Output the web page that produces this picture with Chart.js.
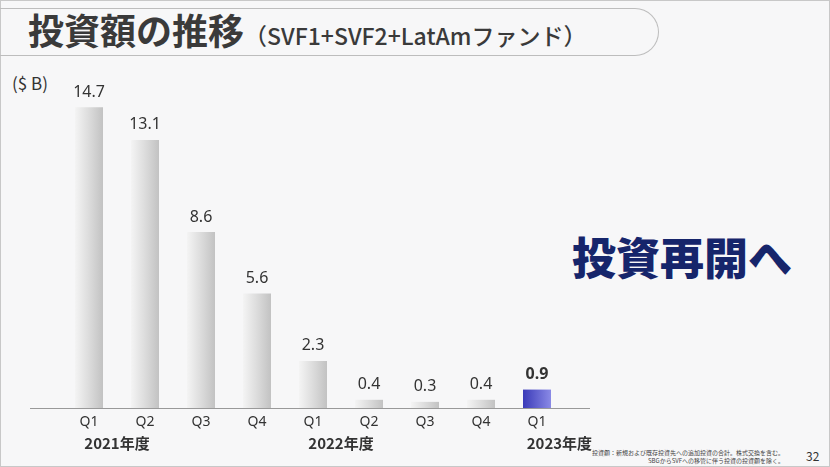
<!DOCTYPE html>
<html><head><meta charset="utf-8">
<script src="https://cdn.jsdelivr.net/npm/chart.js@4/dist/chart.umd.min.js"></script>
<style>
body{margin:0;width:830px;height:467px;overflow:hidden;background:#f7f7f8;font-family:"Noto Sans CJK JP","Noto Sans",sans-serif;position:relative}
#frame{position:absolute;left:0;top:0;width:828px;height:465px;border:1px solid #c8c8c8}
#tbox{position:absolute;left:-2px;top:8px;width:660px;height:46px;border:1.5px solid #bdbdbd;border-left:none;border-radius:0 26px 26px 0}
#title{position:absolute;left:28px;top:3px;font-size:36px;font-weight:700;color:#3a3a3a;white-space:nowrap}
#title span{font-size:23px;font-weight:500}
#unit{position:absolute;left:12px;top:70px;font-size:17px;color:#333}
#msg{position:absolute;left:572px;top:224px;font-size:44px;font-weight:900;color:#16256b}
#note{position:absolute;right:46px;top:449px;font-size:6px;color:#444;text-align:right;line-height:8px}
#pg{position:absolute;left:806px;top:447px;font-size:12px;color:#333}
#base{position:absolute;left:30px;top:408px;width:560px;height:1px;background:#999}
canvas{position:absolute;left:0;top:0}
</style></head><body>
<div id="frame"></div>
<div id="tbox"></div>
<div id="title">投資額の推移<span>（SVF1+SVF2+LatAmファンド）</span></div>
<div id="unit">($ B)</div>
<div id="msg">投資再開へ</div>
<div id="note">投資額：新規および既存投資先への追加投資の合計。株式交換を含む。<br>SBGからSVFへの移管に伴う投資の投資額を除く。</div>
<div id="pg">32</div>
<div id="base"></div>
<canvas id="c" width="830" height="467"></canvas>
<script>
const quarters=["Q1","Q2","Q3","Q4","Q1","Q2","Q3","Q4","Q1"];
const values=[14.7,13.1,8.6,5.6,2.3,0.4,0.3,0.4,0.9];
const years=[{label:"2021年度",from:0,to:1},{label:"2022年度",from:4,to:5},{label:"2023年度",from:8,to:8.8}];
const highlightIndex=8;

const labelPlugin={id:'lbl',afterDatasetsDraw(chart){
  const c=chart.ctx,x=chart.scales.x,y=chart.scales.y;
  c.save();c.textAlign='center';
  values.forEach((v,i)=>{
    const px=x.getPixelForValue(i);
    c.fillStyle='#333';
    c.font=(i===highlightIndex?'bold ':'')+'16px "Noto Sans","Noto Sans CJK JP"';
    c.textBaseline='bottom';
    c.fillText(v.toFixed(1),px,y.getPixelForValue(v)-7);
    c.font='14px "Noto Sans","Noto Sans CJK JP"';c.textBaseline='middle';
    c.fillText(quarters[i],px,422);
  });
  c.font='bold 15px "Noto Sans CJK JP"';
  years.forEach(g=>{
    const a=x.getPixelForValue(g.from),b=x.getPixelForValue(Math.floor(g.to))+(g.to%1)*56;
    c.fillText(g.label,(a+b)/2,443);
  });
  c.restore();
}};

new Chart(document.getElementById('c'),{
  type:'bar',
  data:{labels:quarters.map((q,i)=>i),datasets:[{data:values,
    backgroundColor:(ctx)=>{
      const ch=ctx.chart;if(!ch.chartArea)return '#ccc';
      const px=ch.scales.x.getPixelForValue(ctx.dataIndex);
      const g=ch.ctx.createLinearGradient(px-14,0,px+14,0);
      if(ctx.dataIndex===highlightIndex){g.addColorStop(0,'#3a3ab8');g.addColorStop(1,'#8a8ae6');}
      else{g.addColorStop(0,'#f4f4f4');g.addColorStop(0.5,'#dcdcdc');g.addColorStop(1,'#c2c2c2');}
      return g;},
    barPercentage:0.5,categoryPercentage:1}]},
  options:{responsive:false,animation:false,
    layout:{padding:{left:61,right:265,top:101,bottom:59}},
    plugins:{legend:{display:false},tooltip:{enabled:false}},
    scales:{x:{display:false},y:{display:false,min:0,max:15}}},
  plugins:[labelPlugin]
});
</script></body></html>
